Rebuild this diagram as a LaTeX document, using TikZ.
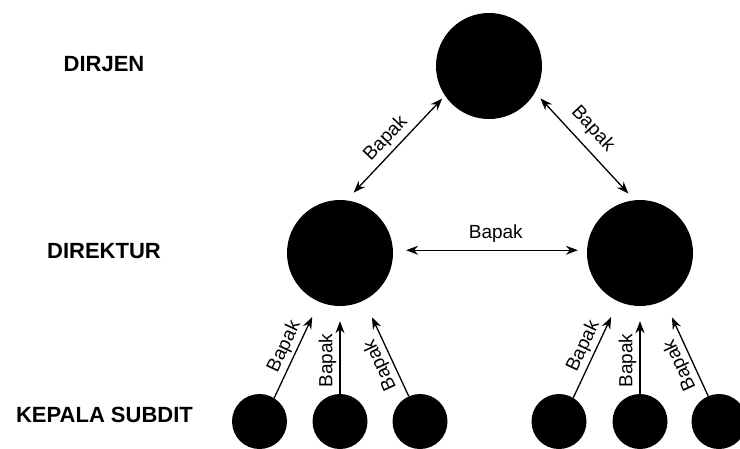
\documentclass[tikz,border=0pt]{standalone}
\usepackage{fontspec}
\usetikzlibrary{arrows.meta}
\newfontfamily\lblfamily{Liberation Sans}
\newfontfamily\lvlfamily{Liberation Sans}
\tikzset{
  tip/.style={Stealth[length=12pt,width=9pt,inset=4pt]},
  big/.style={circle, fill=black, draw=none, minimum size=106pt, inner sep=0pt},
  small/.style={circle, fill=black, draw=none, minimum size=55pt, inner sep=0pt},
  conn/.style={line width=1.3pt, -{Stealth[length=12pt,width=9pt,inset=4pt]}},
  biconn/.style={line width=1.3pt, {Stealth[length=12pt,width=9pt,inset=4pt]}-{Stealth[length=12pt,width=9pt,inset=4pt]}},
  lbl/.style={font=\lblfamily\fontsize{19}{21}\selectfont, sloped, inner sep=1pt, allow upside down},
  lvl/.style={font=\lvlfamily\bfseries\fontsize{22}{24}\selectfont, inner sep=0pt}
}
\begin{document}
\begin{tikzpicture}[x=1pt,y=-1pt]
\useasboundingbox (0,0) rectangle (740,448);
% level labels
\node[lvl] (l1) at (104,64) {DIRJEN};
\node[lvl] (l2) at (104,251) {DIREKTUR};
\node[lvl] (l3) at (104.5,415) {KEPALA SUBDIT};
% circles
\node[big] (top) at (489,66) {};
\node[big] (d1) at (340,253) {};
\node[big] (d2) at (640,253) {};
\node[small] (k1) at (259.5,421.5) {};
\node[small] (k2) at (340,421.5) {};
\node[small] (k3) at (420,421.5) {};
\node[small] (k4) at (559,421.5) {};
\node[small] (k5) at (640,421.5) {};
\node[small] (k6) at (719,421.5) {};
% top arrows
\draw[biconn, shorten <=10.5pt, shorten >=4pt] (d1.83) -- (top.214)
  node[lbl, above=3pt, pos=0.5] {Bapak};
\draw[biconn, shorten <=8pt, shorten >=9pt] (top.330) -- (d2.96)
  node[lbl, above=7pt, pos=0.45] {Bapak};
% horizontal
\draw[biconn, shorten <=13pt, shorten >=9pt] (d1.3) -- (d2.177)
  node[lbl, above=6pt, pos=0.53] {Bapak};
% bottom arrows
\draw[conn, shorten >=16.5pt] (k1.58) -- (d1.247)
  node[lbl, above=2pt, pos=0.48] {Bapak};
\draw[conn, shorten >=15pt] (k2.90) -- (d1.270)
  node[lbl, above=2pt, pos=0.38] {Bapak};
\draw[conn, shorten >=18.6pt] (k3.114) -- (d1.297)
  node[lbl, above=2pt, pos=0.38] {Bapak};
\draw[conn, shorten >=17pt] (k4.59) -- (d2.246)
  node[lbl, above=2pt, pos=0.48] {Bapak};
\draw[conn, shorten >=15pt] (k5.90) -- (d2.270)
  node[lbl, above=2pt, pos=0.38] {Bapak};
\draw[conn, shorten >=18.6pt] (k6.113) -- (d2.297)
  node[lbl, above=2pt, pos=0.38] {Bapak};
\end{tikzpicture}
\end{document}
